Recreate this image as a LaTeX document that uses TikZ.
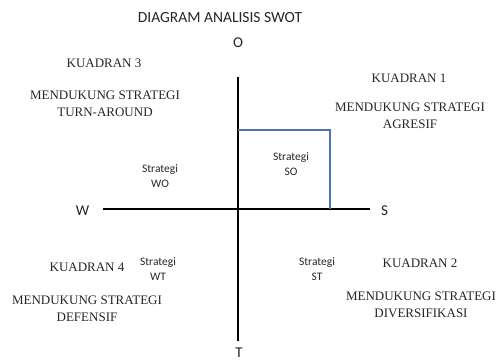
\documentclass[tikz,border=0pt]{standalone}
\usepackage{fontspec}
\setmainfont{Liberation Serif}
\newfontfamily\carlito{Carlito}
\begin{document}
\begin{tikzpicture}[x=1pt,y=-1pt,
  serif/.style={font=\fontsize{13}{17}\selectfont, align=center, inner sep=0pt, text=black!85},
  small/.style={font=\carlito\fontsize{11.5}{15}\selectfont, align=center, inner sep=0pt, text=black!85},
  axlbl/.style={font=\carlito\fontsize{15}{18}\selectfont, inner sep=0pt, text=black!85},
  axis/.style={line width=1.8pt, black},
  blueline/.style={line width=1.5pt, color={rgb,255:red,79;green,114;blue,176}}]
\useasboundingbox (0,0) rectangle (500,361);
% title
\node[font=\carlito\fontsize{15.5}{18}\selectfont, inner sep=0pt, text=black!85] (title) at (220,18) {DIAGRAM ANALISIS SWOT};
% axes
\coordinate (top) at (238,77);
\coordinate (bot) at (238,341);
\coordinate (left) at (103,209);
\coordinate (right) at (370,209);
\coordinate (c) at (238,209);
\draw[axis] (top) -- (bot);
\draw[axis] (left) -- (right);
% axis labels
\node[axlbl] (O) at (238,43) {O};
\node[axlbl] (T) at (239,353) {T};
\node[axlbl] (W) at (82.5,211) {W};
\node[axlbl] (S) at (384.5,211) {S};
% blue SO region
\coordinate (b1) at (238,130);
\coordinate (b2) at (330,130);
\coordinate (b3) at (330,209);
\draw[blueline] (b1) -- (b2) -- (b3);
% strategy labels
\node[small] (so) at (291,164) {Strategi\\SO};
\node[small] (wo) at (160,176) {Strategi\\WO};
\node[small] (wt) at (158,269) {Strategi\\WT};
\node[small] (st) at (317,269) {Strategi\\ST};
% quadrants
\node[serif] (k3) at (104,63) {KUADRAN 3};
\node[serif] (k3t) at (105,103.5) {MENDUKUNG STRATEGI\\TURN-AROUND};
\node[serif] (k1) at (409,78) {KUADRAN 1};
\node[serif] (k1t) at (410,116) {MENDUKUNG STRATEGI\\AGRESIF};
\node[serif] (k4) at (87,267) {KUADRAN 4};
\node[serif] (k4t) at (87,308.5) {MENDUKUNG STRATEGI\\DEFENSIF};
\node[serif] (k2) at (420,263) {KUADRAN 2};
\node[serif] (k2t) at (421,305) {MENDUKUNG STRATEGI\\DIVERSIFIKASI};
\end{tikzpicture}
\end{document}
